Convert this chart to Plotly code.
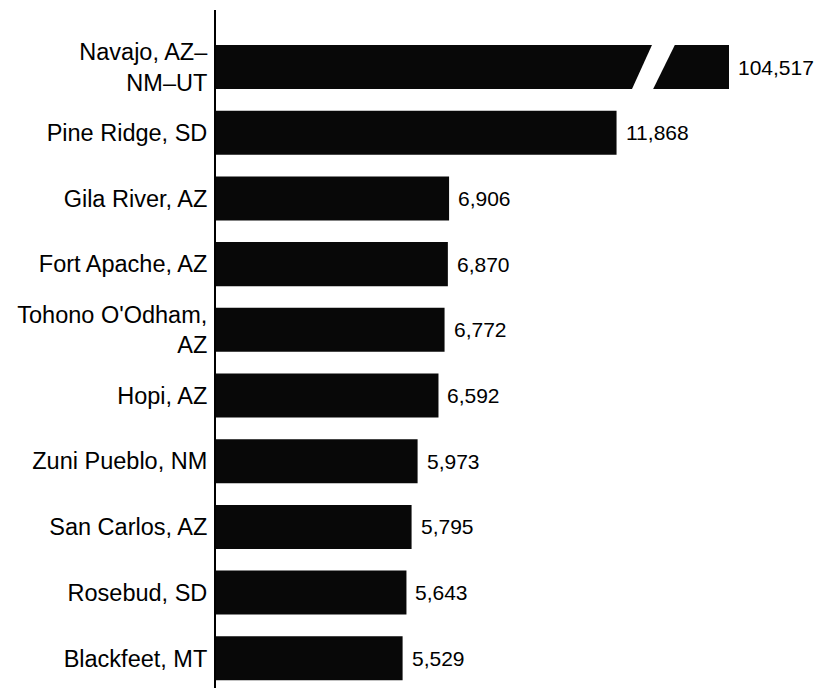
import plotly.graph_objects as go

categories = [
    "Navajo, AZ–<br>NM–UT",
    "Pine Ridge, SD",
    "Gila River, AZ",
    "Fort Apache, AZ",
    "Tohono O'Odham,<br>AZ",
    "Hopi, AZ",
    "Zuni Pueblo, NM",
    "San Carlos, AZ",
    "Rosebud, SD",
    "Blackfeet, MT",
]
values = [104517, 11868, 6906, 6870, 6772, 6592, 5973, 5795, 5643, 5529]

X_MAX = 15200  # axis cut-off: the Navajo bar is drawn broken at this length
display_values = [min(v, X_MAX) for v in values]

FONT = "Liberation Sans, Arial, Helvetica, sans-serif"

fig = go.Figure()
fig.add_trace(go.Bar(
    y=categories,
    x=display_values,
    orientation="h",
    marker=dict(color="#080808", line=dict(width=0)),
    width=0.67,
    cliponaxis=False,
    hoverinfo="skip",
))

for cat, v, d in zip(categories, values, display_values):
    fig.add_annotation(
        x=d, y=cat, text=f"{v:,}", showarrow=False,
        xanchor="left", yanchor="middle", xshift=7,
        font=dict(family=FONT, size=21, color="black"),
    )

# break mark on the Navajo bar (white slanted gap)
fig.add_shape(
    type="path",
    path="M 12975,-0.4 L 13657,-0.4 L 12891,0.4 L 12269,0.4 Z",
    xref="x", yref="y",
    fillcolor="white", line=dict(width=0), layer="above",
)

fig.update_layout(
    width=819, height=688,
    margin=dict(l=216, r=90, t=10, b=0),
    paper_bgcolor="white", plot_bgcolor="white",
    showlegend=False,
    font=dict(family=FONT, size=23, color="black"),
    xaxis=dict(visible=False, range=[0, X_MAX], showgrid=False,
               zeroline=False, automargin=False),
    yaxis=dict(
        type="category",
        range=[9.452, -0.868],
        automargin=False,
        showline=True, linecolor="black", linewidth=2,
        showgrid=False, zeroline=False,
        ticks="", ticklabelstandoff=2,
        tickfont=dict(family=FONT, size=23.5, color="black"),
    ),
)

fig.write_html(
    "out.html",
    config={"displayModeBar": False},
    post_script="document.body.style.margin='0';document.body.style.overflow='hidden';",
)
